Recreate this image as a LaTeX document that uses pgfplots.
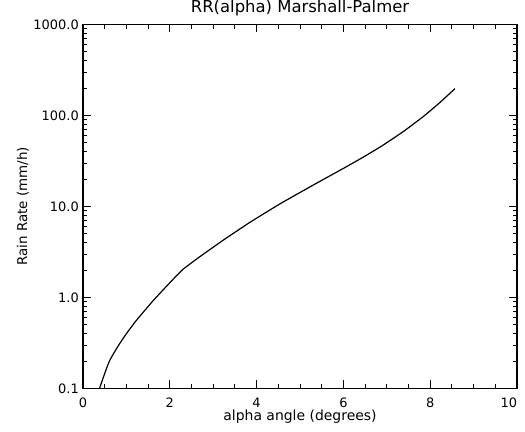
\documentclass[border=0pt]{standalone}
\usepackage{fontspec}
\setmainfont{DejaVu Sans}
\usepackage{pgfplots}
\pgfplotsset{compat=1.18}
\begin{document}
\begin{tikzpicture}
\begin{axis}[
  name=ax,
  scale only axis,
  width=434bp, height=364bp,
  xmin=0, xmax=10,
  ymode=log, ymin=0.1, ymax=1000,
  xtick={0,2,4,6,8,10},
  xticklabels={0,2,4,6,8,\makebox[0pt][r]{10}},
  minor x tick num=3,
  ytick={0.1,1,10,100,1000},
  yticklabels={0.1,1.0,10.0,100.0,1000.0},
  tick align=inside,
  major tick length=8bp,
  minor tick length=4.5bp,
  every tick/.style={black, line width=0.9bp},
  axis line style={line width=1.3bp},
  font=\fontsize{13}{15}\selectfont,
  xticklabel style={anchor=base, yshift=-19bp, inner sep=0pt},
  yticklabel style={anchor=east, inner sep=0pt, xshift=-4bp},
  title={RR(alpha) Marshall-Palmer},
  title style={at={(axis description cs:0.5,1.0165)}, anchor=base, inner sep=0pt, font=\fontsize{16.5}{18}\selectfont},
  xlabel={alpha angle (degrees)},
  xlabel style={at={(axis description cs:0.5,-0.0879)}, anchor=base, inner sep=0pt, font=\fontsize{14}{16}\selectfont},
  ylabel={Rain Rate (mm/h)},
  ylabel style={at={(axis description cs:-0.129,0.5)}, anchor=base, inner sep=0pt, font=\fontsize{13.5}{16}\selectfont},
]
\addplot[black, line width=1.2bp, smooth, tension=0.3] coordinates {
(0.38,0.1)
(0.50,0.146)
(0.615,0.203)
(0.80,0.288)
(1.00,0.40)
(1.23,0.560)
(1.61,0.915)
(2.00,1.45)
(2.30,2.03)
(2.69,2.8)
(3.23,4.26)
(3.85,6.71)
(4.57,10.9)
(5.38,18.0)
(6.00,26.2)
(6.50,35.8)
(6.92,47.4)
(7.40,67.6)
(7.84,97.3)
(8.20,135.6)
(8.57,197)
};
\end{axis}
\path (ax.south west) ++(-83bp,-43bp) rectangle ([shift={(8bp,21bp)}]ax.north east);
\end{tikzpicture}
\end{document}
